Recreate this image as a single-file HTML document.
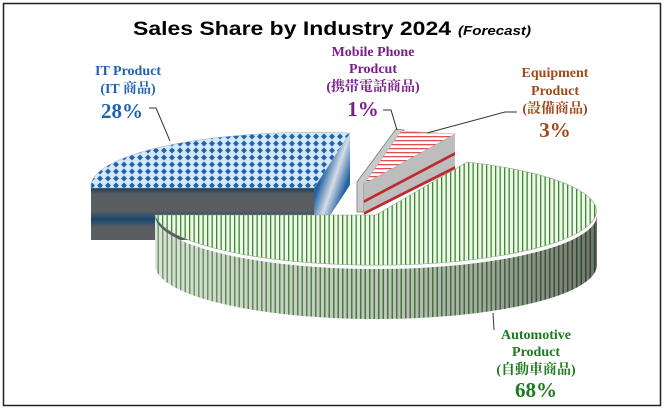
<!DOCTYPE html>
<html><head><meta charset="utf-8"><style>
html,body{margin:0;padding:0;background:#fff;width:667px;height:409px;overflow:hidden}
svg{display:block}
.s{font-family:"Liberation Serif","Noto Serif CJK SC",serif;font-weight:bold;text-anchor:middle}
</style></head><body>
<svg width="667" height="409" viewBox="0 0 667 409" xmlns="http://www.w3.org/2000/svg">
<defs>
<pattern id="dia" width="8" height="7" patternUnits="userSpaceOnUse">
<rect width="8" height="7" fill="#d6e8f8"/>
<path d="M4 0.5 L7 3.5 L4 6.5 L1 3.5Z" fill="#1f63a8"/>
</pattern>
<pattern id="grn" width="4.5" height="10" patternUnits="userSpaceOnUse">
<rect width="4.5" height="10" fill="#eef7ea"/>
<rect width="1.3" height="10" fill="#3d8a2f"/>
</pattern>
<pattern id="grnd" width="4.5" height="10" patternUnits="userSpaceOnUse">
<rect width="4.5" height="10" fill="#c9d8c4"/>
<rect width="1.5" height="10" fill="#3a6e30"/>
</pattern>
<pattern id="red" width="10" height="4" patternUnits="userSpaceOnUse">
<rect width="10" height="4" fill="#fff"/>
<rect width="10" height="1.3" fill="#e05050"/>
</pattern>
<linearGradient id="gside" x1="0" x2="1" y1="0" y2="0">
<stop offset="0" stop-color="#fff" stop-opacity="0.3"/>
<stop offset="0.5" stop-color="#888" stop-opacity="0.2"/>
<stop offset="1" stop-color="#222" stop-opacity="0.55"/>
</linearGradient>
<linearGradient id="bfront" x1="0" x2="0" y1="0" y2="1">
<stop offset="0" stop-color="#1b3c5e"/>
<stop offset="0.12" stop-color="#5a5d62"/>
<stop offset="0.45" stop-color="#5a5d62"/>
<stop offset="0.6" stop-color="#17466e"/>
<stop offset="0.75" stop-color="#5a5d62"/>
<stop offset="1" stop-color="#5a5d62"/>
</linearGradient>
<linearGradient id="bright" x1="0" x2="1" y1="0" y2="1">
<stop offset="0" stop-color="#c8ccd2"/>
<stop offset="0.3" stop-color="#1d5fa0"/>
<stop offset="0.5" stop-color="#d6dde6"/>
<stop offset="0.7" stop-color="#1d5fa0"/>
<stop offset="1" stop-color="#c8ccd2"/>
</linearGradient>
</defs>
<rect x="3.5" y="3.5" width="657" height="402" fill="#fff" stroke="#222" stroke-width="1.5"/>
<text x="133" y="35" font-family="Liberation Sans,sans-serif" font-weight="bold" font-size="19.5" textLength="318" lengthAdjust="spacingAndGlyphs">Sales Share by Industry 2024</text>
<text x="458" y="35" font-family="Liberation Sans,sans-serif" font-weight="bold" font-style="italic" font-size="12.5" textLength="73" lengthAdjust="spacingAndGlyphs">(Forecast)</text>

<!-- blue slice -->
<path d="M91 188 L314 188 L314 240 L91 240Z" fill="url(#bfront)"/>
<path d="M314 188 L350 133 L350 185 L314 240Z" fill="url(#bright)"/>
<path d="M91 188 A223 54 0 0 1 350 133 L314 188Z" fill="url(#dia)" stroke="#9ab" stroke-width="0.5"/>

<!-- mobile gray slice -->
<path d="M357 212 L357 182 L396 129 L404 130 L364 184 L364 212Z" fill="#c9c9c9" stroke="#777" stroke-width="0.8"/>
<!-- red slice -->
<path d="M364 184 L455 134 L455 170 L364 214Z" fill="#bdbdbd"/>
<path d="M364 200 L455 152 L455 155 L364 203Z" fill="#c0282d"/>
<path d="M364 212 L455 166 L455 169 L364 215Z" fill="#c0282d"/>
<path d="M364 184 L401 131 L455 134Z" fill="url(#red)" stroke="#aaa" stroke-width="0.6"/>

<!-- green slice -->
<path d="M155 215 A221 54 0 0 0 597 215 L597 265 A221 54 0 0 1 155 265Z" fill="url(#grnd)"/>
<path d="M155 215 A221 54 0 0 0 597 215 L597 265 A221 54 0 0 1 155 265Z" fill="url(#gside)"/>
<path d="M376 215 L155 215 A221 54 0 1 0 467 162 Z" fill="url(#grn)" stroke="#8a8" stroke-width="0.6"/>

<!-- leaders -->
<g stroke="#333" fill="none" stroke-width="1">
<path d="M149 108 L156 108 L170 141"/>
<path d="M383 110 L391 110 L397 130"/>
<path d="M517 112 L505 112 L427 133"/>
<path d="M494 330 L493 313"/>
</g>

<g class="s" fill="#1f63b0">
<text x="128" y="75" font-size="14">IT Product</text>
<text x="128" y="93" font-size="14">(IT 商品)</text>
<text x="122" y="118" font-size="21">28%</text>
</g>
<g class="s" fill="#7a1f8a">
<text x="373" y="56" font-size="14">Mobile Phone</text>
<text x="373" y="73" font-size="14">Prodcut</text>
<text x="373" y="91" font-size="14">(携帯電話商品)</text>
<text x="363" y="116" font-size="21">1%</text>
</g>
<g class="s" fill="#a04a1a">
<text x="555" y="77" font-size="14">Equipment</text>
<text x="555" y="95" font-size="14">Product</text>
<text x="555" y="113" font-size="14">(設備商品)</text>
<text x="555" y="137" font-size="21">3%</text>
</g>
<g class="s" fill="#1e7a1e">
<text x="536" y="339" font-size="14">Automotive</text>
<text x="536" y="356" font-size="14">Product</text>
<text x="536" y="374" font-size="14">(自動車商品)</text>
<text x="536" y="397" font-size="21">68%</text>
</g>
</svg>
</body></html>
